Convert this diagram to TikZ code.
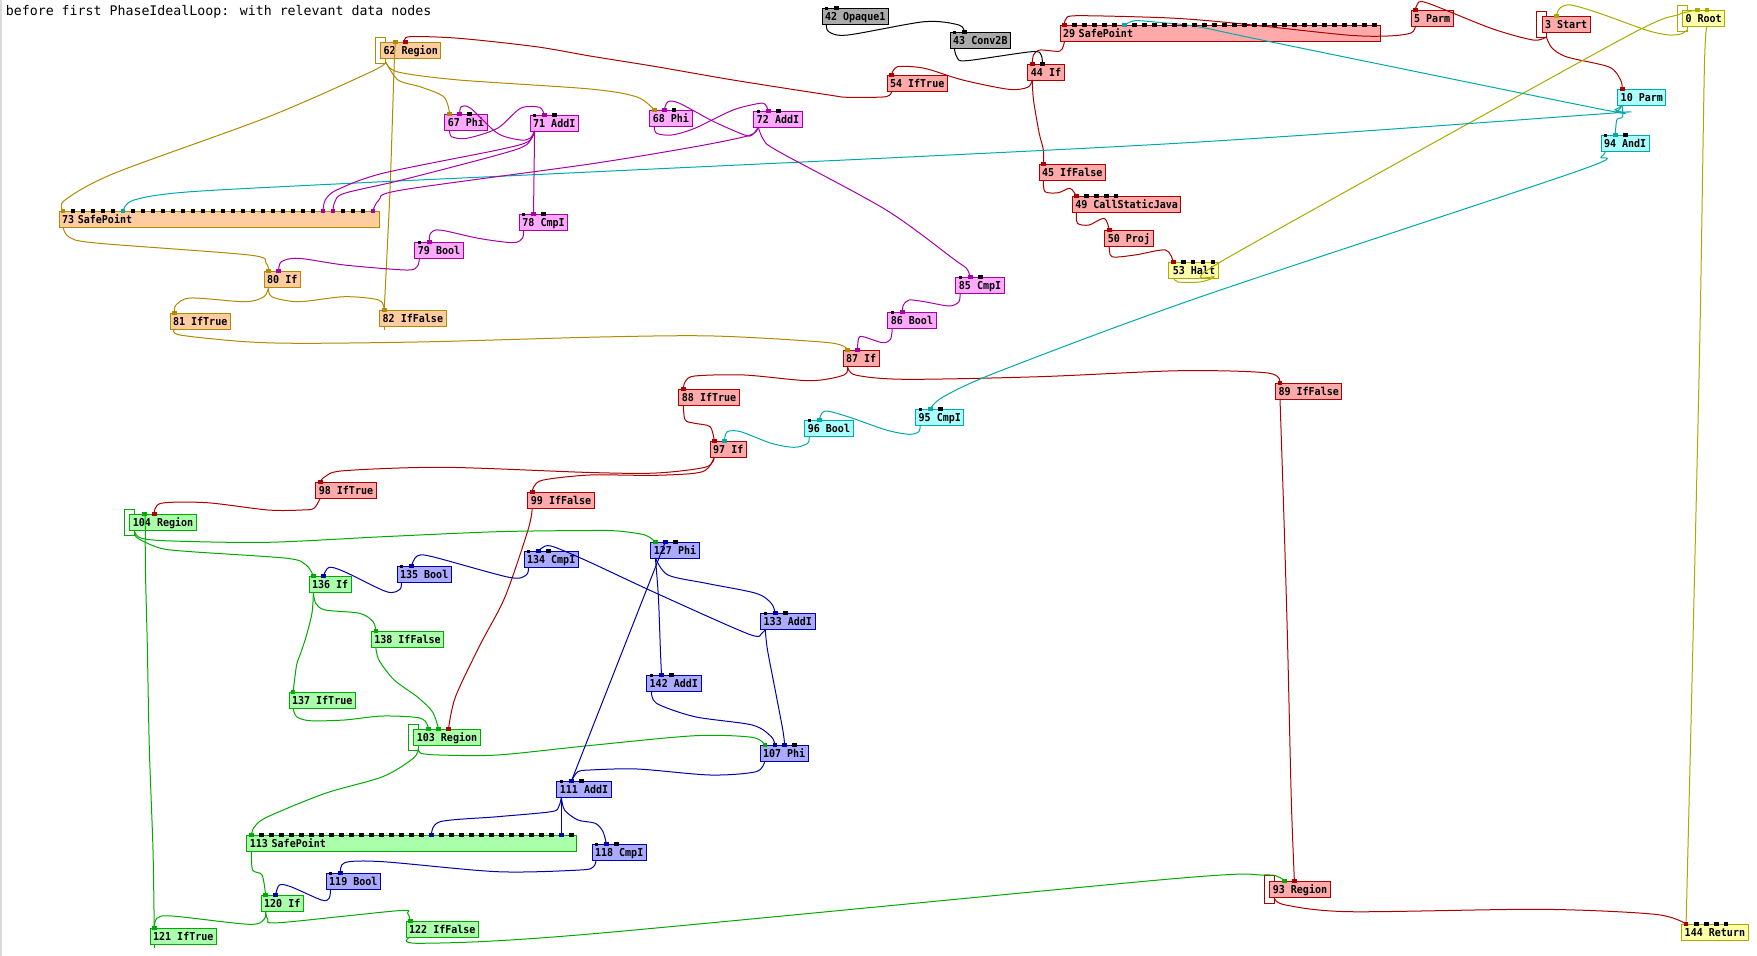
\documentclass[tikz,border=0pt]{standalone}
\usepackage{fontspec}
\newfontfamily\monofont{DejaVu Sans Mono}
\newfontfamily\nodemono[FakeStretch=0.92]{DejaVu Sans Mono}
\newcommand{\nfont}{\nodemono\bfseries\fontsize{10.9}{12}\selectfont}
\definecolor{goldE}{HTML}{B08A00}\definecolor{peachF}{HTML}{FFCCA0}
\definecolor{magE}{HTML}{A800A8}\definecolor{pinkF}{HTML}{FFAAFF}
\definecolor{redE}{HTML}{AA0000}\definecolor{redF}{HTML}{FFAAAA}
\definecolor{grayF}{HTML}{AAAAAA}
\definecolor{yelE}{HTML}{AAAA00}\definecolor{yelF}{HTML}{FFFFAA}
\definecolor{cyanE}{HTML}{00AAAA}\definecolor{cyanF}{HTML}{AAFFFF}
\definecolor{greenE}{HTML}{00AA00}\definecolor{greenF}{HTML}{AAFFAA}
\definecolor{blueE}{HTML}{0000AA}\definecolor{blueF}{HTML}{AAAAFF}
\newcommand{\sq}[2]{\fill[#2] (#1) +(-2.3,-2.3) rectangle +(2.3,2.3);}
\newcommand{\bsq}[2]{\fill[black] (#1,#2) +(-2.3,-2.3) rectangle +(2.3,2.3);}
\newcommand{\ssq}[2]{\fill[black] (#1,#2) +(-1.5,-1.5) rectangle +(1.5,1.5);}
\begin{document}
\begin{tikzpicture}[x=1pt,y=-1pt,
  nb/.style={draw, line width=1pt, anchor=north west, minimum height=16pt, inner xsep=3pt, inner ysep=0pt, text height=9.5pt, text depth=1.5pt, font=\nfont},
  peach/.style={nb, fill=peachF, draw=goldE},
  pink/.style={nb, fill=pinkF, draw=magE},
  redn/.style={nb, fill=redF, draw=redE},
  grayn/.style={nb, fill=grayF, draw=black},
  yeln/.style={nb, fill=yelF, draw=yelE},
  cyann/.style={nb, fill=cyanF, draw=cyanE},
  greenn/.style={nb, fill=greenF, draw=greenE},
  bluen/.style={nb, fill=blueF, draw=blueE},
  wide/.style={text width=#1, align=left},
  ge/.style={draw=goldE, line width=1pt},
  me/.style={draw=magE, line width=1pt},
  re/.style={draw=redE, line width=1pt},
  ke/.style={draw=black, line width=1pt},
  ye/.style={draw=yelE, line width=1pt},
  ce/.style={draw=cyanE, line width=1pt},
  gre/.style={draw=greenE, line width=1pt},
  be/.style={draw=blueE, line width=1pt},
  loopr/.style={line width=1pt}
]
\useasboundingbox (0,0) rectangle (1757,956);
\fill[white] (0,0) rectangle (1757,956);
\draw[line width=1.5pt, black!15] (0.75,0) -- (0.75,956);
\node[anchor=base west, inner sep=0pt, font=\monofont\fontsize{13.25}{15}\selectfont] (title) at (5.7,15.5) {before first PhaseIdealLoop: with relevant data nodes};

% ---------- loop rectangles ----------
\draw[loopr, goldE] (375.4,37) rectangle (385.7,63);
\draw[loopr, redE] (1536.5,11) rectangle (1546.4,37);
\draw[loopr, yelE] (1677,5) rectangle (1687.3,31);
\draw[loopr, greenE] (124.4,509) rectangle (134.7,535);
\draw[loopr, greenE] (408.3,724) rectangle (418.3,750);
\draw[loopr, redE] (1264.3,875) rectangle (1274.2,903);

% ---------- nodes ----------
\node[peach] (n62) at (380,42) {62 Region};
\node[pink] (n67) at (444.3,114) {67 Phi};
\node[pink] (n71) at (529.6,115) {71 AddI};
\node[peach, wide=314pt] (n73) at (58.6,211) {73 SafePoint};
\node[pink] (n78) at (518.9,214) {78 CmpI};
\node[pink] (n79) at (414.4,242) {79 Bool};
\node[peach] (n80) at (263.7,271) {80 If};
\node[peach] (n81) at (169.5,313) {81 IfTrue};
\node[peach] (n82) at (379.2,310) {82 IfFalse};
\node[grayn] (n42) at (821.5,8) {42 Opaque1};
\node[grayn] (n43) at (949.7,32) {43 Conv2B};
\node[redn, wide=314pt] (n29) at (1059.5,25) {29 SafePoint};
\node[redn] (n44) at (1027.4,64) {44 If};
\node[redn] (n54) at (886.5,75) {54 IfTrue};
\node[pink] (n68) at (649.3,110) {68 Phi};
\node[pink] (n72) at (753.4,111) {72 AddI};
\node[redn] (n45) at (1038.5,164) {45 IfFalse};
\node[redn] (n49) at (1071.8,196) {49 CallStaticJava};
\node[redn] (n50) at (1104.3,230) {50 Proj};
\node[yeln, minimum width=50pt] (n53) at (1168.4,262) {53 Halt};
\node[pink] (n85) at (955.4,277) {85 CmpI};
\node[pink] (n86) at (887.3,312) {86 Bool};
\node[redn] (n5) at (1410.5,10) {5 Parm};
\node[redn] (n3) at (1541.5,16) {3 Start};
\node[yeln] (n0) at (1682,10) {0 Root};
\node[cyann] (n10) at (1617.2,89) {10 Parm};
\node[cyann] (n94) at (1600.5,135) {94 AndI};
\node[redn] (n87) at (842.5,350) {87 If};
\node[redn] (n88) at (678.4,389) {88 IfTrue};
\node[redn] (n89) at (1275,383) {89 IfFalse};
\node[redn] (n97) at (709.7,441) {97 If};
\node[cyann] (n96) at (804.3,420) {96 Bool};
\node[cyann] (n95) at (915.2,409) {95 CmpI};
\node[redn] (n98) at (315.3,482) {98 IfTrue};
\node[redn] (n99) at (527.4,492) {99 IfFalse};
\node[greenn] (n104) at (129.4,514) {104 Region};
\node[greenn] (n136) at (308.5,576) {136 If};
\node[bluen] (n135) at (396.5,566) {135 Bool};
\node[bluen] (n134) at (523.5,551) {134 CmpI};
\node[greenn] (n138) at (370.8,631) {138 IfFalse};
\node[bluen] (n127) at (650.4,542) {127 Phi};
\node[bluen] (n133) at (760.2,613) {133 AddI};
\node[greenn] (n137) at (288.5,692) {137 IfTrue};
\node[greenn] (n103) at (413.3,729) {103 Region};
\node[bluen] (n142) at (646.2,675) {142 AddI};
\node[bluen] (n107) at (759.5,745) {107 Phi};
\node[bluen] (n111) at (556.4,781) {111 AddI};
\node[greenn, wide=324pt] (n113) at (246.4,835) {113 SafePoint};
\node[bluen] (n118) at (591.5,844) {118 CmpI};
\node[bluen] (n119) at (325.7,873) {119 Bool};
\node[greenn] (n120) at (260.6,895) {120 If};
\node[greenn] (n121) at (149.6,928) {121 IfTrue};
\node[greenn] (n122) at (405.6,921) {122 IfFalse};
\node[redn] (n93) at (1269.3,881) {93 Region};
\node[yeln] (n144) at (1681.2,924) {144 Return};

% ---------- port / output coordinates ----------
\coordinate (p62a) at (395.3,42); \coordinate (p62b) at (405.3,42); \coordinate (o62) at (385.7,62);
\coordinate (p67a) at (449.7,114); \coordinate (p67b) at (459.6,114); \coordinate (o67) at (449.7,130);
\coordinate (p68a) at (654.2,110); \coordinate (p68b) at (664.2,110); \coordinate (o68) at (654.2,126);
\coordinate (p71a) at (544.2,115); \coordinate (o71) at (534.6,131);
\coordinate (p72a) at (768.3,111); \coordinate (o72) at (758.3,127);
\coordinate (p73g) at (63,211); \coordinate (p73c) at (123,211); \coordinate (p73m1) at (323,211); \coordinate (p73m2) at (333,211); \coordinate (p73m3) at (373,211); \coordinate (o73) at (63,227);
\coordinate (p78a) at (533.5,214); \coordinate (o78) at (523.5,230);
\coordinate (p79a) at (429.4,242); \coordinate (o79) at (419.4,258);
\coordinate (p80a) at (268.6,271); \coordinate (p80b) at (278.6,271); \coordinate (o80) at (268.6,287);
\coordinate (p81a) at (174.5,313); \coordinate (o81) at (174.5,329);
\coordinate (p82a) at (384.2,310); \coordinate (o82) at (384.2,326);
\coordinate (o42) at (826.4,24);
\coordinate (p43a) at (964.2,32); \coordinate (o43) at (954.3,48);
\coordinate (p29r) at (1064.5,25); \coordinate (p29c) at (1124.5,25); \coordinate (o29) at (1064.5,41);
\coordinate (p44a) at (1032.3,64); \coordinate (p44b) at (1042.3,64); \coordinate (o44) at (1032.3,80);
\coordinate (p54a) at (891.5,75); \coordinate (o54) at (891.5,91);
\coordinate (p45a) at (1043.4,164); \coordinate (o45) at (1043.4,180);
\coordinate (p49a) at (1076.3,196); \coordinate (o49) at (1076.3,212);
\coordinate (p50a) at (1109.3,230); \coordinate (o50) at (1109.3,246);
\coordinate (p53a) at (1173.3,262); \coordinate (o53) at (1173.3,278);
\coordinate (p85a) at (970.3,277); \coordinate (o85) at (960,293);
\coordinate (p86a) at (902.2,312); \coordinate (o86) at (892.3,328);
\coordinate (p5a) at (1415.5,10); \coordinate (o5) at (1415.5,26);
\coordinate (p3a) at (1556.3,16); \coordinate (o3) at (1546.4,37);
\coordinate (p0a) at (1697.2,10); \coordinate (p0b) at (1707.1,10); \coordinate (i0b) at (1707.1,26); \coordinate (o0) at (1687.3,30);
\coordinate (p10a) at (1622.2,89); \coordinate (o10) at (1622.2,105);
\coordinate (p94a) at (1615.3,135); \coordinate (o94) at (1605.4,151);
\coordinate (p87a) at (847.5,350); \coordinate (p87b) at (857.4,350); \coordinate (o87) at (847.5,366);
\coordinate (p88a) at (683.3,389); \coordinate (o88) at (683.3,405);
\coordinate (p89a) at (1280,383); \coordinate (o89) at (1280,399);
\coordinate (p97a) at (714.3,441); \coordinate (p97b) at (724.3,441); \coordinate (o97) at (714.3,457);
\coordinate (p96a) at (819.2,420); \coordinate (o96) at (809.2,436);
\coordinate (p95a) at (930.2,409); \coordinate (o95) at (920.2,425);
\coordinate (p98a) at (320.3,482); \coordinate (o98) at (320.3,498);
\coordinate (p99a) at (532.3,492); \coordinate (o99) at (532.3,508);
\coordinate (p104a) at (144.3,514); \coordinate (p104b) at (154.2,514); \coordinate (o104) at (134.7,532);
\coordinate (p127a) at (655.4,542); \coordinate (p127b) at (665.3,542); \coordinate (o127) at (655.4,558);
\coordinate (p133a) at (775.2,613); \coordinate (o133) at (765.2,629);
\coordinate (p136a) at (313.4,576); \coordinate (p136b) at (323.4,576); \coordinate (o136) at (313.4,592);
\coordinate (p135a) at (411.4,566); \coordinate (o135) at (401.4,582);
\coordinate (p134a) at (538.4,551); \coordinate (o134) at (528.5,567);
\coordinate (p138a) at (375.8,631); \coordinate (o138) at (375.8,647);
\coordinate (p137a) at (293.1,692); \coordinate (o137) at (293.1,708);
\coordinate (p103a) at (428.6,729); \coordinate (p103b) at (438.6,729); \coordinate (p103c) at (448.5,729); \coordinate (o103) at (418.3,749);
\coordinate (p142a) at (661.5,675); \coordinate (o142) at (651.6,691);
\coordinate (p107a) at (764.8,745); \coordinate (p107b) at (774.8,745); \coordinate (p107c) at (784.7,745); \coordinate (o107) at (764.8,761);
\coordinate (p111a) at (571.4,781); \coordinate (o111) at (561.4,797);
\coordinate (p113g) at (251.4,835); \coordinate (p113b1) at (431.4,835); \coordinate (p113b2) at (561.4,835); \coordinate (o113) at (251.4,851);
\coordinate (p118a) at (606.4,844); \coordinate (o118) at (596.1,860);
\coordinate (p119a) at (340.6,873); \coordinate (o119) at (330.6,889);
\coordinate (p120a) at (265.6,895); \coordinate (p120b) at (275.5,895); \coordinate (o120) at (265.6,911);
\coordinate (p121a) at (154.2,928); \coordinate (o121) at (154.2,944);
\coordinate (p122a) at (410.2,921); \coordinate (o122) at (410.2,937);
\coordinate (p93a) at (1284.5,881); \coordinate (p93b) at (1294.4,881); \coordinate (o93) at (1274.2,898);
\coordinate (p144a) at (1686.1,924);

% ---------- gold edges ----------
\draw[ge] plot[smooth] coordinates {(o62) (371.2,71.7) (268,117) (115,173) (65,200) (p73g)};
\draw[ge] plot[smooth] coordinates {(o62) (398,80) (421,87) (444,97) (p67a)};
\draw[ge] plot[smooth] coordinates {(o62) (398,72) (459,80) (590,89) (637,97) (p68a)};
\draw[ge] (o82) -- ++(0,4);
\draw[ge] plot[smooth] coordinates {(p82a) (390,190) (394,70) (p62a)};
\draw[ge] plot[smooth] coordinates {(o73) (69,237) (96,243) (249,255) (266,263) (p80a)};
\draw[ge] plot[smooth] coordinates {(o80) (264,296.7) (245,301.7) (191,298) (176,305) (p81a)};
\draw[ge] plot[smooth] coordinates {(o80) (271.7,296.7) (298.5,301.7) (344.4,296.7) (378.9,300) (p82a)};
\draw[ge] plot[smooth] coordinates {(o81) (180,335) (245,341.7) (306,343.3) (432,341.7) (600,337) (714,336) (829,342.7) (p87a)};

% ---------- red edges ----------
\draw[re] plot[smooth] coordinates {(o54) (886,96.7) (848,97.3) (829,95) (733,80) (656.5,66.7) (590,56) (536,46.7) (459,38.3) (409.5,36.7) (p62b)};
\draw[re] plot[smooth] coordinates {(o29) (1060,51) (1040,50) (1033.5,55) (p44a)};
\draw[re] plot[smooth] coordinates {(o44) (1027.7,87.3) (1008.6,89.3) (962.7,80) (924.4,68.3) (897.6,66.7) (p54a)};
\draw[re] plot[smooth] coordinates {(o44) (1033.5,100) (1039.2,133.3) (1043.4,150) (p45a)};
\draw[re] plot[smooth] coordinates {(o45) (1045,191.7) (1058.4,192.7) (1070,188.3) (p49a)};
\draw[re] plot[smooth] coordinates {(o49) (1077.5,223.3) (1089,225) (1104.3,218.3) (p50a)};
\draw[re] plot[smooth] coordinates {(o50) (1112,256.7) (1134.9,255) (1165.5,250) (p53a)};
\draw[re] plot[smooth] coordinates {(o5) (1411,33) (1388,36) (1346.5,35) (1236,23.3) (1170,18) (1078,15.7) (1066,19) (p29r)};
\draw[re] plot[smooth] coordinates {(o3) (1533,40) (1491,28.3) (1426.5,2.7) (1417,5) (p5a)};
\draw[re] plot[smooth] coordinates {(o3) (1552,48) (1567,57) (1609,67) (1620.6,80) (p10a)};
\draw[re] plot[smooth] coordinates {(o87) (844,375) (809.6,380.7) (744.5,375) (694.8,376) (685.2,381.7) (p88a)};
\draw[re] plot[smooth] coordinates {(o87) (855.5,375) (905.3,379.3) (1039.2,376.7) (1180,370.7) (1268,373) (p89a)};
\draw[re] plot[smooth] coordinates {(o88) (685.2,420) (694.8,423.3) (710.1,426.7) (p97a)};
\draw[re] plot[smooth] coordinates {(o97) (706,467) (656.5,473) (590,472.5) (444,467.3) (344,470.7) (325,476.7) (p98a)};
\draw[re] plot[smooth] coordinates {(o97) (702.5,471.7) (656.5,475.3) (590,475) (543.4,480) (533.8,486.7) (p99a)};
\draw[re] plot[smooth] coordinates {(o98) (314,508.3) (302,510) (268,510) (207,502.7) (161,503.3) (p104b)};
\draw[re] plot[smooth] coordinates {(o99) (528,530) (505,597) (480,645) (455.4,697) (p103c)};
\draw[re] plot[smooth] coordinates {(o89) (1284,520) (1287.5,640) (1291.3,800) (p93b)};
\draw[re] plot[smooth] coordinates {(o93) (1285.6,905) (1350,911.7) (1541,909.3) (1655,914.3) (p144a)};

% ---------- yellow edges ----------
\draw[ye] plot[smooth] coordinates {(o0) (1681,34) (1670,35) (1657,33) (1643,29) (1600,13.5) (1571,5) (1560,8) (p3a)};
\draw[ye] plot[smooth, tension=0.4] coordinates {(o53) (1178,282) (1200,282) (1214,277) (1222,261) (1620,40) (1677,15) (p0a)};
\draw[ye] plot[smooth] coordinates {(p144a) (1693,640) (1700,330) (1704.4,67) (i0b)};

% ---------- cyan edges ----------
\draw[ce] plot[smooth] coordinates {(o10) (1615,109.5) (1600,109) (1270,41.7) (1198,26.7) (1160,22.5) (1135,20.7) (p29c)};
\draw[ce] plot[smooth] coordinates {(o10) (1616,112) (1600,114) (1170,143.7) (590,172) (383,181.7) (191,191.7) (134,200) (p73c)};
\draw[ce] plot[smooth] coordinates {(o10) (1622.6,116.7) (1616.8,120) (p94a)};
\draw[ce] plot[smooth] coordinates {(o94) (1601,157) (1575,172) (1200,297) (1000,371) (943.5,396.7) (p95a)};
\draw[ce] plot[smooth] coordinates {(o95) (918.7,431.7) (909.1,434.3) (886.2,430) (847.9,416.7) (824.9,411) (p96a)};
\draw[ce] plot[smooth] coordinates {(o96) (807.7,443.3) (794.3,447.3) (771.3,443.3) (740.7,431.7) (727.3,431.7) (p97b)};

% ---------- black edges ----------
\draw[ke] plot[smooth] coordinates {(o42) (828.7,31.7) (847.9,35) (924.4,21.7) (958.9,25) (p43a)};
\draw[ke] plot[smooth] coordinates {(o43) (957,57.3) (966.5,60.7) (1031.6,51.7) (1041.1,55) (p44b)};

% ---------- magenta edges ----------
\draw[me] plot[smooth] coordinates {(o67) (451.6,136.7) (466.9,138.3) (497.5,128.3) (520.5,108.3) (539.6,107.3) (p71a)};
\draw[me] plot[smooth] coordinates {(o71) (530,138.3) (520.5,140) (497.5,133.3) (470.7,108.3) (461.2,106.7) (p67b)};
\draw[me] (o71) -- (p78a);
\draw[me] plot[smooth] coordinates {(o71) (528.1,141.7) (497.5,150) (382.7,173.3) (336.8,190) (325.3,200) (p73m1)};
\draw[me] plot[smooth] coordinates {(o71) (526.2,145) (497.5,155) (401.8,180) (344.4,193.3) (334.9,201.7) (p73m2)};
\draw[me] plot[smooth] coordinates {(o72) (756,131.7) (744.6,136.7) (695,146.7) (590,164) (401.8,190) (379,200) (p73m3)};
\draw[me] plot[smooth] coordinates {(o68) (656.5,133.3) (671.8,135) (694.8,128.3) (733.1,110) (759.9,103.3) (765.6,105) (p72a)};
\draw[me] plot[smooth] coordinates {(o72) (752.2,135) (744.6,135) (713.9,121.7) (679.5,103.3) (668,101.7) (p68b)};
\draw[me] plot[smooth] coordinates {(o72) (763.7,140) (779,151.7) (886.2,210) (955,260) (966.5,268.3) (p85a)};
\draw[me] plot[smooth] coordinates {(o78) (522.4,238.3) (512.8,242.7) (478.4,238.3) (440.1,230) (430.5,233.3) (p79a)};
\draw[me] plot[smooth] coordinates {(o79) (417.1,266.7) (405.7,270) (344.4,265) (298.5,258.3) (281.3,261.7) (p80b)};
\draw[me] plot[smooth] coordinates {(o85) (958.9,301.7) (949.3,306) (924.4,301.7) (909.1,300) (903.4,305) (p86a)};
\draw[me] plot[smooth] coordinates {(o86) (891.9,333) (890,340) (882.3,342.7) (863.2,336.7) (858.6,338.3) (p87b)};

% ---------- green edges ----------
\draw[gre] plot[smooth] coordinates {(o104) (141.6,538.3) (172,541) (268,542.3) (383,536.7) (497.5,531.7) (590,530.5) (618,531) (645,535) (p127a)};
\draw[gre] plot[smooth] coordinates {(o104) (137.8,538.3) (160.7,548.3) (191.4,551.7) (287,558.3) (306.2,565) (p136a)};
\draw[gre] (o121) -- ++(0,4);
\draw[gre] plot[smooth] coordinates {(p121a) (153,850) (149.3,747) (147.3,645) (145.4,568) (145.2,520) (p104a)};
\draw[gre] plot[smooth] coordinates {(o136) (312,613) (306,637) (300,655) (296.6,665) (p137a)};
\draw[gre] plot[smooth] coordinates {(o136) (315.7,603.3) (325.3,610) (359.7,613.3) (373.1,621.7) (p138a)};
\draw[gre] plot[smooth] coordinates {(o137) (296.6,716.7) (310,720.7) (344.4,720) (382.7,716) (421,718.3) (p103a)};
\draw[gre] plot[smooth] coordinates {(o138) (378.9,660) (394.2,680) (417.1,696.7) (432.4,711.7) (p103b)};
\draw[gre] plot[smooth] coordinates {(o103) (421,753.3) (440,755) (497.5,755) (590,745.5) (695,735.7) (752,737.3) (p107a)};
\draw[gre] plot[smooth] coordinates {(o103) (413.3,758.3) (382.7,776.7) (325.3,793.3) (267.9,816.7) (254.5,826.7) (p113g)};
\draw[gre] plot[smooth] coordinates {(o113) (252.6,870) (262.1,875) (p120a)};
\draw[gre] plot[smooth] coordinates {(o120) (264.1,919.3) (248.8,924.3) (172.2,916) (156.9,918.3) (p121a)};
\draw[gre] plot[smooth] coordinates {(o120) (267.9,919.3) (279.4,922.7) (398,910.7) (407.6,913.3) (p122a)};
\draw[gre] plot[smooth] coordinates {(o122) (421,943.3) (590,934) (1170,879) (1263,875) (1278,876.7) (p93a)};

% ---------- blue edges ----------
\draw[be] plot[smooth] coordinates {(o127) (668,575) (706.3,583.3) (756,593.3) (771.3,603.3) (p133a)};
\draw[be] plot[smooth] coordinates {(o127) (658.4,597) (660.4,650) (p142a)};
\draw[be] (p127b) -- (p111a);
\draw[be] plot[smooth] coordinates {(o133) (761.8,633.3) (748.4,634) (656.5,593.3) (585,560) (551,546) (541.5,548.3) (p134a)};
\draw[be] plot[smooth] coordinates {(o134) (526.2,575) (509,577.3) (432.4,556.7) (417.1,556) (p135a)};
\draw[be] plot[smooth] coordinates {(o135) (399.9,589.3) (386.5,591.7) (344.4,571.7) (329.1,567.3) (p136b)};
\draw[be] plot[smooth] coordinates {(o142) (656.5,703.3) (694.8,716.7) (752.2,725) (771.3,736.7) (p107b)};
\draw[be] plot[smooth] coordinates {(o133) (767.5,650) (775.2,690) (782.8,730) (p107c)};
\draw[be] plot[smooth] coordinates {(o107) (756,771.7) (710.1,775) (637.4,769) (590,770) (577.9,771.7) (p111a)};
\draw[be] plot[smooth] coordinates {(o111) (558.7,806.7) (551,811.7) (497.5,816.7) (440.1,821.7) (p113b1)};
\draw[be] (o111) -- (p113b2);
\draw[be] plot[smooth] coordinates {(o111) (564.5,810) (578,820) (595.3,823.3) (603,831.7) (p118a)};
\draw[be] plot[smooth] coordinates {(o118) (593.4,866.7) (580,870) (497.5,871.7) (383,861.7) (345,862.5) (p119a)};
\draw[be] plot[smooth] coordinates {(o119) (329.1,898.3) (321.5,900) (290.8,886.7) (279.4,885) (p120b)};

% ---------- ports ----------
\sq{p62a}{goldE}\sq{p62b}{redE}
\sq{p67a}{goldE}\sq{p67b}{magE}\bsq{469.6}{114}
\sq{p68a}{goldE}\sq{p68b}{magE}\bsq{674.1}{110}
\ssq{534.6}{115}\sq{p71a}{magE}\bsq{554.5}{115}
\ssq{758.3}{111}\sq{p72a}{magE}\bsq{778.2}{111}
\foreach \i in {0,...,31} {\bsq{63+10*\i}{211}}
\sq{p73g}{goldE}\sq{p73c}{cyanE}\sq{p73m1}{magE}\sq{p73m2}{magE}\sq{p73m3}{magE}
\ssq{523.5}{214}\sq{p78a}{magE}\bsq{543.4}{214}
\ssq{419.4}{242}\sq{p79a}{magE}
\sq{p80a}{goldE}\sq{p80b}{magE}
\sq{p81a}{goldE}
\sq{p82a}{goldE}
\ssq{826.4}{8}\bsq{836.4}{8}
\ssq{954.3}{32}\sq{p43a}{black}
\foreach \i in {0,...,31} {\bsq{1064.5+10*\i}{25}}
\sq{p29r}{redE}\sq{p29c}{cyanE}
\sq{p44a}{redE}\sq{p44b}{black}
\sq{p54a}{redE}
\sq{p45a}{redE}
\sq{p49a}{redE}\bsq{1086.3}{196}\bsq{1096.2}{196}\bsq{1106.2}{196}\bsq{1116.1}{196}
\sq{p50a}{redE}
\sq{p53a}{redE}\bsq{1183.2}{262}\bsq{1193.1}{262}\bsq{1203}{262}\bsq{1213}{262}
\ssq{960}{277}\sq{p85a}{magE}\bsq{980.3}{277}
\ssq{892.3}{312}\sq{p86a}{magE}
\sq{p5a}{redE}
\sq{p3a}{yelE}
\sq{p0a}{yelE}\sq{p0b}{yelE}
\sq{p10a}{redE}
\ssq{1605.4}{135}\sq{p94a}{cyanE}\bsq{1625.2}{135}
\sq{p87a}{goldE}\sq{p87b}{magE}
\sq{p88a}{redE}
\sq{p89a}{redE}
\sq{p97a}{redE}\sq{p97b}{cyanE}
\ssq{809.2}{420}\sq{p96a}{cyanE}
\ssq{920.2}{409}\sq{p95a}{cyanE}\bsq{940.5}{409}
\sq{p98a}{redE}
\sq{p99a}{redE}
\sq{p104a}{greenE}\sq{p104b}{redE}
\sq{p127a}{greenE}\sq{p127b}{blueE}\bsq{675.3}{542}
\ssq{765.2}{613}\sq{p133a}{blueE}\bsq{785.5}{613}
\sq{p136a}{greenE}\sq{p136b}{blueE}
\ssq{401.4}{566}\sq{p135a}{blueE}
\ssq{528.5}{551}\sq{p134a}{blueE}\bsq{548.4}{551}
\sq{p138a}{greenE}
\sq{p137a}{greenE}
\sq{p103a}{greenE}\sq{p103b}{greenE}\sq{p103c}{redE}
\ssq{651.6}{675}\sq{p142a}{blueE}\bsq{671.5}{675}
\sq{p107a}{greenE}\sq{p107b}{blueE}\sq{p107c}{blueE}\bsq{794.7}{745}
\ssq{561.4}{781}\sq{p111a}{blueE}\bsq{581.3}{781}
\foreach \i in {0,...,32} {\bsq{251.4+10*\i}{835}}
\sq{p113g}{greenE}\sq{p113b1}{blueE}\sq{p113b2}{blueE}
\ssq{596.1}{844}\sq{p118a}{blueE}\bsq{616.4}{844}
\ssq{330.6}{873}\sq{p119a}{blueE}
\sq{p120a}{greenE}\sq{p120b}{blueE}
\sq{p121a}{greenE}
\sq{p122a}{greenE}
\sq{p93a}{greenE}\sq{p93b}{redE}
\sq{p144a}{redE}\bsq{1696.4}{924}\bsq{1706.3}{924}\bsq{1716.2}{924}\bsq{1726.1}{924}
\end{tikzpicture}
\end{document}
